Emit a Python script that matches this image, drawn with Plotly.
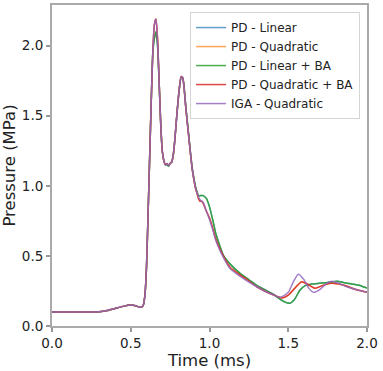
import plotly.graph_objects as go

# shared part of the pressure history (all five models overlap here)
t_rise = [0.0, 0.1, 0.2, 0.3, 0.35, 0.4, 0.45, 0.5, 0.53, 0.555, 0.57, 0.58, 0.59, 0.60, 0.61, 0.62, 0.63, 0.64]
p_rise = [0.1, 0.1, 0.1, 0.102, 0.11, 0.125, 0.14, 0.15, 0.145, 0.134, 0.135, 0.15, 0.22, 0.42, 0.8, 1.2, 1.6, 1.95]

t_peak = [0.65, 0.66, 0.67, 0.68, 0.69, 0.70, 0.71, 0.72, 0.73, 0.74, 0.75, 0.76, 0.77, 0.78, 0.79, 0.80,
          0.81, 0.82, 0.83, 0.84, 0.85, 0.86, 0.87, 0.88, 0.89, 0.90, 0.91, 0.92]
p_peak = [2.15, 2.19, 2.05, 1.75, 1.45, 1.25, 1.18, 1.15, 1.16, 1.145, 1.16, 1.17, 1.22, 1.33, 1.47, 1.6,
          1.71, 1.78, 1.77, 1.68, 1.55, 1.44, 1.33, 1.22, 1.12, 1.05, 0.99, 0.95]
p_peak_ba = [2.05, 2.10, 2.0, 1.74, 1.45, 1.25, 1.18, 1.15, 1.15, 1.14, 1.16, 1.17, 1.22, 1.33, 1.47, 1.6,
             1.71, 1.77, 1.77, 1.69, 1.56, 1.45, 1.34, 1.23, 1.13, 1.06, 1.0, 0.96]

# tails after the second peak
t_lin = [0.93, 0.94, 0.96, 0.98, 1.0, 1.02, 1.04, 1.06, 1.09, 1.15, 1.2, 1.25, 1.3, 1.35, 1.4, 1.45, 1.48,
         1.51, 1.54, 1.575, 1.61, 1.65, 1.7, 1.75, 1.81, 1.85, 1.9, 1.95, 2.0]
p_lin = [0.93, 0.93, 0.93, 0.91, 0.85, 0.76, 0.66, 0.59, 0.5, 0.42, 0.37, 0.33, 0.29, 0.26, 0.23, 0.19, 0.17,
         0.162, 0.19, 0.257, 0.29, 0.30, 0.305, 0.31, 0.32, 0.31, 0.30, 0.29, 0.27]

t_quad = [0.93, 0.94, 0.95, 0.96, 0.98, 1.0, 1.02, 1.04, 1.07, 1.13, 1.2, 1.24, 1.3, 1.35, 1.4, 1.46, 1.5,
          1.55, 1.585, 1.62, 1.67, 1.72, 1.77, 1.82, 1.87, 1.93, 2.0]
p_quad = [0.91, 0.89, 0.89, 0.875, 0.82, 0.77, 0.7, 0.62, 0.54, 0.42, 0.36, 0.33, 0.28, 0.25, 0.225, 0.2, 0.22,
          0.28, 0.316, 0.3, 0.27, 0.29, 0.305, 0.3, 0.285, 0.26, 0.24]

t_iga = [0.93, 0.94, 0.96, 0.98, 1.0, 1.02, 1.04, 1.07, 1.13, 1.2, 1.24, 1.3, 1.35, 1.4, 1.45, 1.5, 1.53,
         1.564, 1.6, 1.63, 1.66, 1.7, 1.74, 1.776, 1.82, 1.87, 1.93, 2.0]
p_iga = [0.92, 0.9, 0.88, 0.82, 0.76, 0.69, 0.61, 0.53, 0.41, 0.35, 0.32, 0.28, 0.25, 0.225, 0.205, 0.24, 0.31,
         0.37, 0.33, 0.27, 0.24, 0.26, 0.30, 0.32, 0.305, 0.28, 0.26, 0.24]

names = ["PD - Linear", "PD - Quadratic", "PD - Linear + BA", "PD - Quadratic + BA", "IGA - Quadratic"]
colors = ["rgba(31,119,180,0.7)", "rgba(255,127,14,0.7)", "rgba(44,160,44,0.85)",
          "rgba(214,39,40,0.85)", "rgba(148,103,189,0.85)"]

series = [
    (t_rise + t_peak + t_lin, p_rise + p_peak_ba + p_lin),
    (t_rise + t_peak + t_quad, p_rise + p_peak + p_quad),
    (t_rise + t_peak + t_lin, p_rise + p_peak_ba + p_lin),
    (t_rise + t_peak + t_quad, p_rise + p_peak + p_quad),
    (t_rise + t_peak + t_iga, p_rise + p_peak + p_iga),
]

fig = go.Figure()
for name, col, (tx, py) in zip(names, colors, series):
    fig.add_trace(go.Scatter(x=tx, y=py, mode="lines", name=name,
                             line=dict(color=col, width=1.5, shape="spline", smoothing=0.6)))

axis_style = dict(showline=True, mirror=True, linecolor="#aaaaaa", linewidth=2,
                  ticks="outside", ticklen=4, tickcolor="#999999", tickwidth=1.5,
                  showgrid=False, zeroline=False, tickfont=dict(size=13.5, color="#222"))

fig.update_layout(
    width=383, height=371,
    margin=dict(l=52, r=16, t=5, b=45, autoexpand=False),
    plot_bgcolor="white", paper_bgcolor="white",
    font=dict(family="DejaVu Sans", color="#222"),
    xaxis=dict(range=[0, 2.0], tickvals=[0, 0.5, 1.0, 1.5, 2.0], tickformat=".1f",
               title=dict(text="Time (ms)", font=dict(size=16.5), standoff=0), **axis_style),
    yaxis=dict(range=[0, 2.29], tickvals=[0, 0.5, 1.0, 1.5, 2.0], tickformat=".1f",
               title=dict(text="Pressure (MPa)", font=dict(size=16.5), standoff=2), **axis_style),
    legend=dict(x=0.978, y=0.978, xanchor="right", yanchor="top",
                bgcolor="rgba(255,255,255,0.8)", bordercolor="#d5d5d5", borderwidth=1,
                font=dict(size=12), itemwidth=30, tracegroupgap=0),
)

# drop the page's default body margin so the figure sits at the window's corner
fig.write_html("out.html", config={"displayModeBar": False},
               post_script="document.body.style.margin='0';")
